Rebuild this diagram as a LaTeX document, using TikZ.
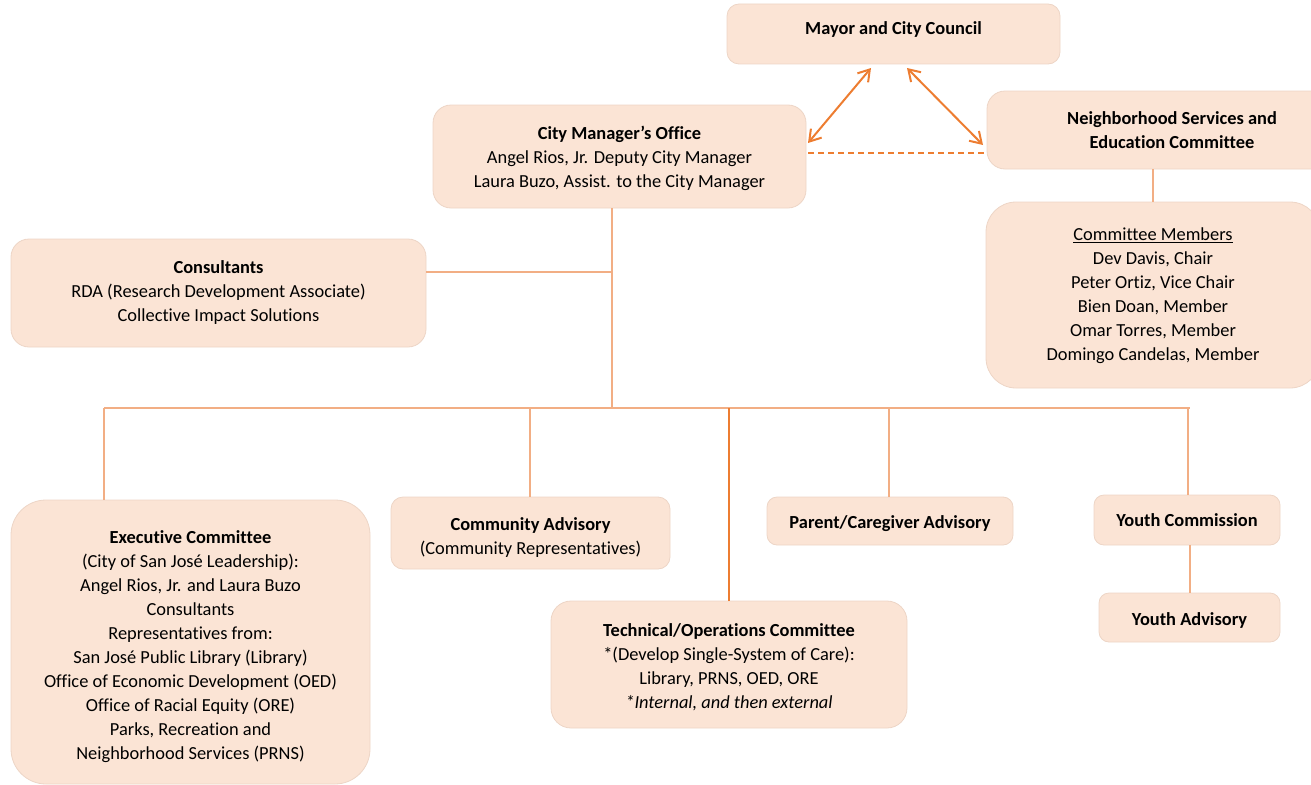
\documentclass[tikz,border=0pt]{standalone}
\usepackage{fontspec}
\setmainfont{Carlito}[Ligatures=NoCommon]
\usetikzlibrary{arrows.meta}
\definecolor{boxfill}{HTML}{FBE4D5}
\definecolor{boxline}{HTML}{EDD5C6}
\definecolor{conn}{HTML}{F2AE84}
\definecolor{orng}{HTML}{ED7D31}
% vertical fine-tuning of text inside boxes
\newcommand\txtdown[1]{\rule{0pt}{\dimexpr 13pt+#1pt*2\relax}}
\newcommand\txtup[1]{\rule[-\dimexpr 4pt+#1pt*2\relax]{0pt}{0pt}}
\tikzset{
  box/.style={draw=boxline, line width=0.8pt, fill=boxfill, align=center, inner sep=0pt,
    font=\fontsize{18.4}{24}\selectfont, text=black},
  link/.style={draw=conn, line width=1.3pt},
  twoway/.style={draw=orng, line width=2pt, {Straight Barb[length=11pt,width=14pt]}-{Straight Barb[length=11pt,width=14pt]}},
  dashlink/.style={draw=orng, line width=1.3pt, dash pattern=on 6pt off 4pt}
}
\begin{document}
\begin{tikzpicture}[x=1pt,y=-1pt]
\useasboundingbox (0,0) rectangle (1311,784);
\clip (0,0) rectangle (1311,784);
% boxes
\node[box, rounded corners=12pt, minimum width=333pt, minimum height=60pt] (mayor) at (893.5,34) {\textbf{Mayor and City Council}\txtup{4}};
\node[box, rounded corners=18pt, minimum width=373pt, minimum height=103pt] (cm) at (619.5,156.5)
  {\txtdown{2}\textbf{City Manager’s Office}\\Angel Rios, Jr. Deputy City Manager\\Laura Buzo, Assist. to the City Manager};
\node[box, rounded corners=18pt, minimum width=370pt, minimum height=78pt] (nse) at (1172,130)
  {\textbf{Neighborhood Services and}\\\textbf{Education Committee}};
\node[box, rounded corners=30pt, minimum width=334pt, minimum height=186pt] (cmem) at (1153,295)
  {\txtdown{1}\underline{Committee Members}\\Dev Davis, Chair\\Peter Ortiz, Vice Chair\\Bien Doan, Member\\Omar Torres, Member\\Domingo Candelas, Member};
\node[box, rounded corners=18pt, minimum width=415pt, minimum height=108pt] (cons) at (218.5,293)
  {\textbf{Consultants}\\RDA (Research Development Associate)\\Collective Impact Solutions};
\node[box, rounded corners=35pt, minimum width=359pt, minimum height=284pt] (exec) at (190.5,642)
  {\txtdown{5}\textbf{Executive Committee}\\(City of San José Leadership):\\Angel Rios, Jr. and Laura Buzo\\Consultants\\Representatives from:\\San José Public Library (Library)\\Office of Economic Development (OED)\\Office of Racial Equity (ORE)\\Parks, Recreation and\\Neighborhood Services (PRNS)};
\node[box, rounded corners=12pt, minimum width=279pt, minimum height=72pt] (comm) at (530.5,533)
  {\txtdown{4}\textbf{Community Advisory}\\(Community Representatives)};
\node[box, rounded corners=20pt, minimum width=356pt, minimum height=127pt] (tech) at (729,664.5)
  {\txtdown{3}\textbf{Technical/Operations Committee}\\*(Develop Single-System of Care):\\Library, PRNS, OED, ORE\\\textit{*Internal, and then external}};
\node[box, rounded corners=10pt, minimum width=246pt, minimum height=48pt] (parent) at (890,521)
  {\txtdown{3}\textbf{Parent/Caregiver Advisory}};
\node[box, rounded corners=10pt, minimum width=186pt, minimum height=50pt] (ycom) at (1187,520)
  {\textbf{Youth Commission}};
\node[box, rounded corners=10pt, minimum width=181pt, minimum height=49pt] (yadv) at (1189.5,617.5)
  {\txtdown{3}\textbf{Youth Advisory}};
% coordinates
\coordinate (busL) at (104,408);
\coordinate (busR) at (1190,408);
\coordinate (busC) at (612,408);
\coordinate (consJ) at (612,272);
\coordinate (dComm) at (530,408);
\coordinate (dTech) at (729,408);
\coordinate (dPar) at (889,408);
\coordinate (dYc) at (1188,408);
\coordinate (mA) at (871,68);
\coordinate (cmA) at (808,143);
\coordinate (mB) at (907,68);
\coordinate (nseA) at (983,145);
\coordinate (cmD) at (808,153);
\coordinate (nseD) at (987,153);
% connectors
\draw[link] (cm.south -| busC) -- (busC);
\draw[link] (cons.east |- consJ) -- (consJ);
\draw[link] (busL) -- (busR);
\draw[link] (busL) -- (busL |- exec.north);
\draw[link] (dComm) -- (dComm |- comm.north);
\draw[draw=orng, line width=1.1pt] (dTech) -- (dTech |- tech.north);
\draw[link] (dPar) -- (dPar |- parent.north);
\draw[link] (dYc) -- (dYc |- ycom.north);
\draw[link] (ycom.south -| 1190,0) -- (yadv.north -| 1190,0);
\draw[link] (nse.south -| cmem.north) -- (cmem.north);
\draw[twoway] (mA) -- (cmA);
\draw[twoway] (mB) -- (nseA);
\draw[dashlink] (cmD) -- (nseD);
\end{tikzpicture}
\end{document}
